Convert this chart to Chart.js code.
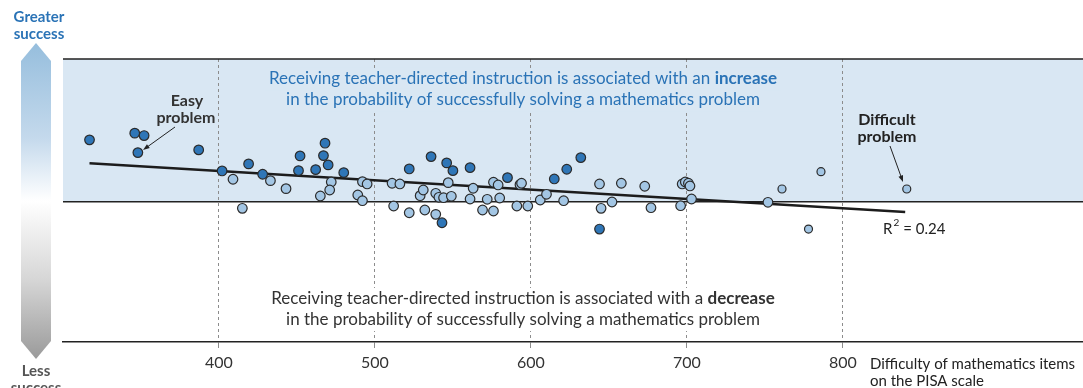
<!DOCTYPE html>
<html>
<head>
<meta charset="utf-8">
<script src="https://cdn.jsdelivr.net/npm/chart.js@4/dist/chart.umd.min.js"></script>
<style>
  html, body { margin: 0; padding: 0; background: #fff; }
  #wrap { position: relative; width: 1083px; height: 388px; }
</style>
</head>
<body>
<div id="wrap"><canvas id="chart"></canvas></div>
<script>
// Item difficulty on the PISA scale vs. change in probability of success
// Items with a significant association (dark markers)
const signifX = [317, 346, 352, 348, 387, 402, 419, 428, 451, 452, 462, 468, 467, 470, 480,
                 522, 536, 546, 550, 561, 543, 585, 615, 623, 632, 644];
const signifY = [6.17, 6.84, 6.60, 4.90, 5.17, 3.07, 3.77, 2.74, 3.10, 4.57, 3.20, 5.84, 4.60, 3.67, 2.90,
                 3.27, 4.50, 3.87, 3.10, 3.40, -2.10, 2.40, 2.27, 3.24, 4.40, -2.73];

// Other items (light markers)
const otherX = [409, 415, 433, 443, 472, 471, 465, 489, 492, 492, 495, 511, 516, 512, 522,
                529, 531, 539, 541, 544, 549, 547, 532, 539, 563, 561, 569, 572, 576, 576,
                579, 580, 593, 594, 591, 598, 606, 610, 621, 644, 658, 673, 645, 652, 677,
                697, 699, 701, 702, 696, 703, 752];
const otherY = [2.24, -0.66, 2.10, 1.30, 1.97, 1.17, 0.57, 0.67, 0.10, 2.00, 1.77, 1.84, 1.77, -0.43, -1.10,
                0.60, 1.17, 0.84, 0.44, 0.40, 0.54, 1.90, -0.83, -1.26, 1.34, 0.27, -0.83, 0.24, -0.93, 1.94,
                1.67, 0.37, 1.70, 1.84, -0.43, -0.43, 0.17, 0.74, 0.10, 1.77, 1.84, 1.54, -0.66, -0.03, -0.60,
                1.77, 1.97, 1.84, 1.57, -0.40, 0.27, -0.06];

// Items with few observations (small markers)
const smallX = [761, 786, 778, 841];
const smallY = [1.27, 3.00, -2.73, 1.27];

// Fitted trend
const trendX = [317, 840];
const trendY = [3.84, -1.03];

const xTicks = [400, 500, 600, 700, 800];
const xMin = 300, xMax = 954;
const yMin = -14, yMax = 14.24;

const BLUE_BG = '#d9e7f3';
const TEXT = '#333333';
const BLUE_TEXT = '#2a73b6';
const FONT = 'Lato, "Open Sans", sans-serif';

const toPoints = (xs, ys) => xs.map((x, i) => ({ x: x, y: ys[i] }));

// text line with a bold word inside, centred on cx
function mixedLine(ctx, parts, cx, y, size, color, mask) {
  let widths = parts.map(p => {
    ctx.font = (p.bold ? 'bold ' : '') + size + 'px ' + FONT;
    return ctx.measureText(p.text).width;
  });
  const total = widths.reduce((a, b) => a + b, 0);
  let x = cx - total / 2;
  if (mask) {
    ctx.fillStyle = mask;
    ctx.fillRect(x - 4, y - size * 0.65, total + 8, size * 1.3);
  }
  ctx.fillStyle = color;
  ctx.textBaseline = 'middle';
  ctx.textAlign = 'left';
  parts.forEach((p, i) => {
    ctx.font = (p.bold ? 'bold ' : '') + size + 'px ' + FONT;
    ctx.fillText(p.text, x, y);
    x += widths[i];
  });
}

function arrow(ctx, x1, y1, x2, y2) {
  const a = Math.atan2(y2 - y1, x2 - x1);
  ctx.strokeStyle = '#222';
  ctx.fillStyle = '#222';
  ctx.lineWidth = 1;
  ctx.beginPath();
  ctx.moveTo(x1, y1);
  ctx.lineTo(x2 - 5 * Math.cos(a), y2 - 5 * Math.sin(a));
  ctx.stroke();
  ctx.beginPath();
  ctx.moveTo(x2, y2);
  ctx.lineTo(x2 - 7 * Math.cos(a - 0.35), y2 - 7 * Math.sin(a - 0.35));
  ctx.lineTo(x2 - 7 * Math.cos(a + 0.35), y2 - 7 * Math.sin(a + 0.35));
  ctx.closePath();
  ctx.fill();
}

const decorations = {
  id: 'decorations',
  beforeDraw(chart) {
    const { ctx, chartArea: a, scales: { y } } = chart;
    const y0 = y.getPixelForValue(0);
    ctx.save();
    ctx.fillStyle = BLUE_BG;
    ctx.fillRect(a.left, a.top, a.right - a.left, y0 - a.top);

    // success arrow on the left
    const ax1 = 21, ax2 = 51, mid = (ax1 + ax2) / 2;
    const grad = ctx.createLinearGradient(0, 43, 0, 359);
    grad.addColorStop(0, '#96bedd');
    grad.addColorStop(0.3, '#c4d9ec');
    grad.addColorStop(0.5, '#ffffff');
    grad.addColorStop(0.75, '#d6d6d6');
    grad.addColorStop(1, '#9a9a9a');
    ctx.fillStyle = grad;
    ctx.beginPath();
    ctx.moveTo(mid, 43);
    ctx.lineTo(ax2, 61);
    ctx.lineTo(ax2, 341);
    ctx.lineTo(mid, 359);
    ctx.lineTo(ax1, 341);
    ctx.lineTo(ax1, 61);
    ctx.closePath();
    ctx.fill();

    ctx.textAlign = 'center';
    ctx.textBaseline = 'middle';
    ctx.font = 'bold 15px ' + FONT;
    ctx.fillStyle = BLUE_TEXT;
    ctx.fillText('Greater', 39, 17);
    ctx.fillText('success', 39, 34);
    ctx.fillStyle = '#555';
    ctx.fillText('Less', 36, 371);
    ctx.fillText('success', 36, 388);
    ctx.restore();
  },
  beforeDatasetsDraw(chart) {
    const { ctx, chartArea: a, scales: { y } } = chart;
    const y0 = y.getPixelForValue(0);
    ctx.save();
    const cx = 523;
    mixedLine(ctx, [{ text: 'Receiving teacher-directed instruction is associated with an ' }, { text: 'increase', bold: true }],
      cx, 79, 17, BLUE_TEXT, BLUE_BG);
    mixedLine(ctx, [{ text: 'in the probability of successfully solving a mathematics problem' }],
      cx, 100, 17, BLUE_TEXT, BLUE_BG);
    mixedLine(ctx, [{ text: 'Receiving teacher-directed instruction is associated with a ' }, { text: 'decrease', bold: true }],
      cx, 299, 17, TEXT, '#ffffff');
    mixedLine(ctx, [{ text: 'in the probability of successfully solving a mathematics problem' }],
      cx, 320, 17, TEXT, '#ffffff');

    ctx.strokeStyle = '#222';
    ctx.lineWidth = 1.5;
    ctx.beginPath();
    ctx.moveTo(a.left, a.top);
    ctx.lineTo(a.right, a.top);
    ctx.moveTo(a.left, y0);
    ctx.lineTo(a.right, y0);
    ctx.stroke();
    ctx.restore();
  },
  afterDraw(chart) {
    const { ctx } = chart;
    ctx.save();
    ctx.fillStyle = TEXT;
    ctx.textAlign = 'center';
    ctx.textBaseline = 'middle';
    ctx.font = 'bold 16px ' + FONT;
    ctx.fillText('Easy', 187, 101);
    ctx.fillText('problem', 186, 118);
    arrow(ctx, 175, 127, 143, 150);
    ctx.fillText('Difficult', 887, 120);
    ctx.fillText('problem', 887, 137);
    arrow(ctx, 890, 146, 903, 182);

    ctx.textAlign = 'left';
    ctx.font = '15px ' + FONT;
    ctx.fillText('R', 883, 229);
    const rw = ctx.measureText('R').width;
    ctx.font = '10px ' + FONT;
    ctx.fillText('2', 883 + rw + 1, 223);
    ctx.font = '15px ' + FONT;
    ctx.fillText(' = 0.24', 883 + rw + 7, 229);

    ctx.font = '15px ' + FONT;
    ctx.fillText('Difficulty of mathematics items', 870, 364);
    ctx.fillText('on the PISA scale', 870, 381);
    ctx.restore();
  }
};

const pointStyle = (fill, r) => ({
  backgroundColor: fill,
  borderColor: '#2b2b2b',
  borderWidth: 1.2,
  pointRadius: r,
  pointHoverRadius: r,
  showLine: false
});

new Chart(document.getElementById('chart'), {
  type: 'scatter',
  data: {
    datasets: [
      { label: 'signif', data: toPoints(signifX, signifY), order: 0, ...pointStyle('#2f76b7', 4.8) },
      { label: 'other', data: toPoints(otherX, otherY), order: 1, ...pointStyle('#a3c6e4', 4.8) },
      { label: 'small', data: toPoints(smallX, smallY), order: 1, ...pointStyle('#a3c6e4', 4) },
      {
        label: 'trend',
        type: 'line',
        data: toPoints(trendX, trendY),
        order: 5,
        borderColor: '#1c1c1c',
        borderWidth: 2.6,
        pointRadius: 0,
        fill: false
      }
    ]
  },
  options: {
    responsive: true,
    maintainAspectRatio: false,
    animation: false,
    events: [],
    layout: { autoPadding: false, padding: { left: 63, top: 59, right: 0, bottom: 0 } },
    plugins: {
      legend: { display: false },
      tooltip: { enabled: false }
    },
    scales: {
      x: {
        type: 'linear',
        min: xMin,
        max: xMax,
        afterBuildTicks: scale => { scale.ticks = xTicks.map(v => ({ value: v })); },
        afterFit: scale => { scale.height = 46; },
        grid: { color: '#8c8c8c', lineWidth: 1, tickLength: 6 },
        border: { display: true, color: '#222', width: 1.5, dash: [3, 3] },
        ticks: { color: TEXT, font: { family: FONT, size: 16 }, padding: 5 }
      },
      y: {
        display: false,
        min: yMin,
        max: yMax
      }
    }
  },
  plugins: [decorations]
});
</script>
</body>
</html>
